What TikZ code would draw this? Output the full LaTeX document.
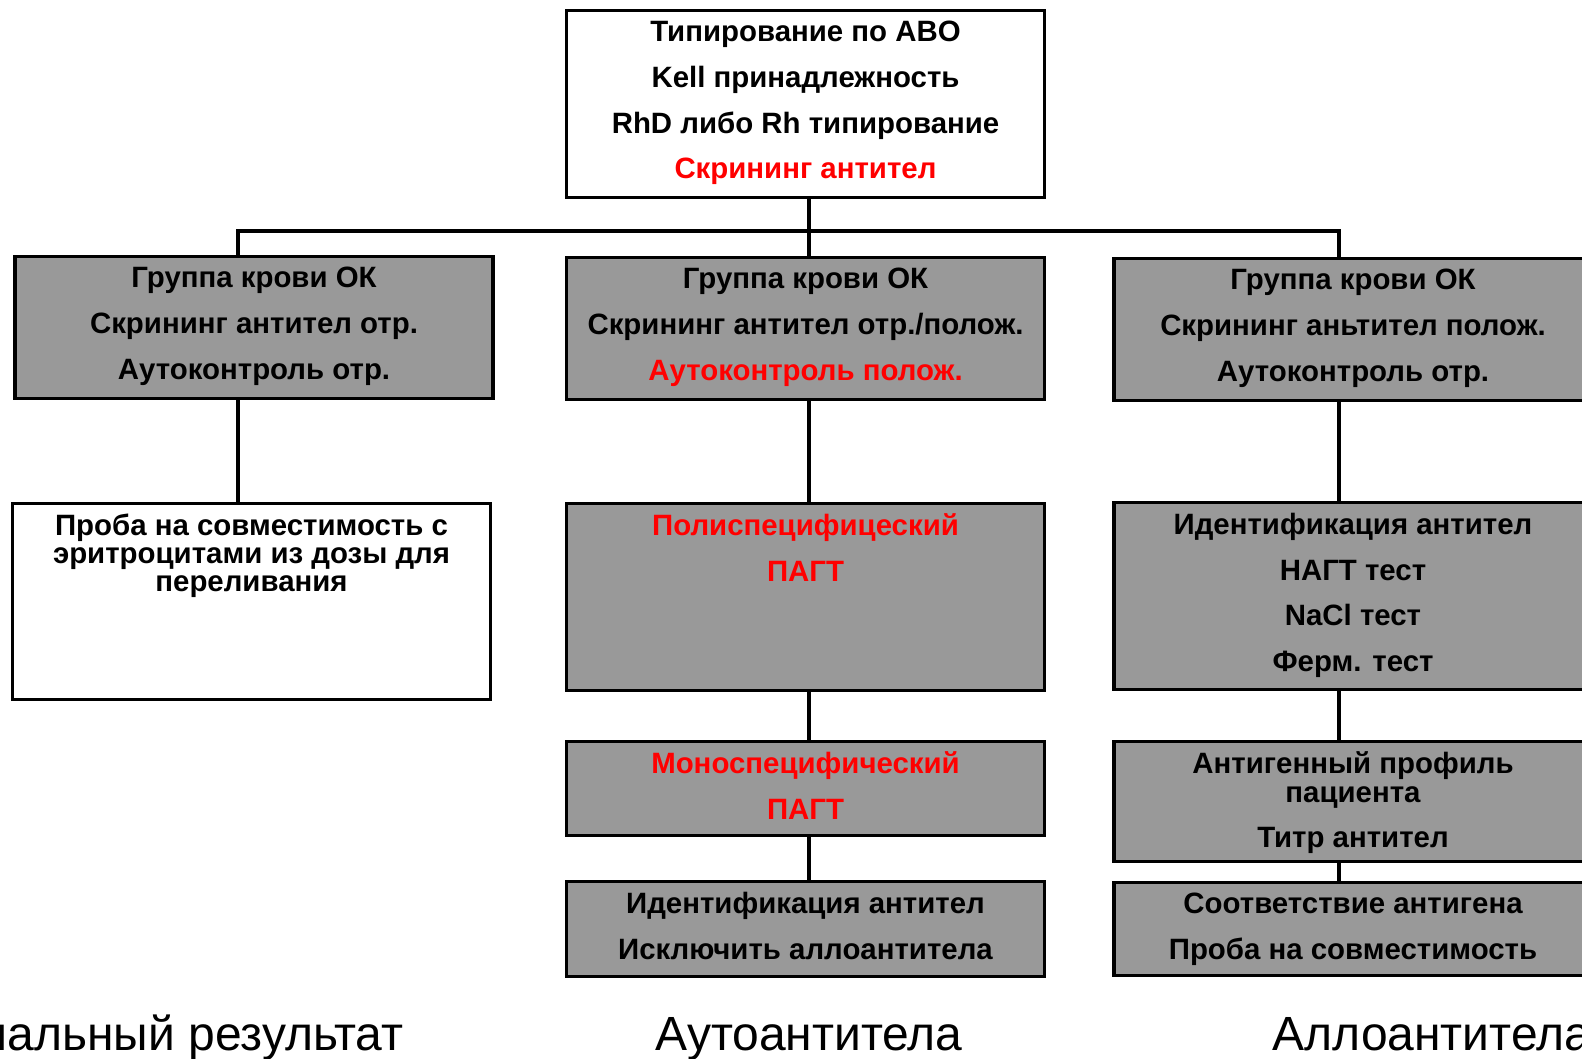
\documentclass[tikz,border=0pt]{standalone}
\usepackage{fontspec}
\setmainfont{Liberation Sans}
\usetikzlibrary{positioning}

\tikzstyle{box} = [draw, line width=3.5pt, minimum width=478pt, inner sep=0pt]
\tikzstyle{box text} = [align=center, inner sep=0pt, font={\bfseries\fontsize{29.4}{28.2}\selectfont\lineskiplimit=-30pt\lineskip=0pt}]
\tikzstyle{edge} = [draw, line width=3.5pt, -]
\tikzstyle{caption} = [font=\fontsize{48}{52}\selectfont]

\begin{document}
\begin{tikzpicture}[x=1pt, y=-1pt]
       \useasboundingbox (0,0) rectangle (1582,1058);
       \clip (0,0) rectangle (1582,1058);
       % boxes
       \foreach \pos/\name/\h/\col in {{(805.5,104)/abo/187/white}, {(254,327.5)/neg/142/black!40}, {(805.5,328.5)/autopos/142/black!40}, {(1353,329.5)/allo/142/black!40}, {(251.5,601.5)/cross/196/white}, {(805.5,597)/poly/187/black!40}, {(1353,596)/ident/187/black!40}, {(805.5,788.5)/mono/94/black!40}, {(1353,801.5)/profile/120/black!40}, {(805.5,929)/excl/95/black!40}, {(1353,929)/match/93/black!40}} {
           \node[box, fill=\col, minimum height=\h] (\name) at \pos {};
       }
       % texts
       \node[box text, below=12pt of abo.north] (abotext) {Типирование по ABO\\[17.6pt] Kell принадлежность\\[17.6pt] RhD либо Rh типирование\\[17.6pt] \textcolor{red}{Скрининг антител}};
       \node[box text, below=12pt of neg.north] (negtext) {Группа крови ОК\\[17.6pt] Скрининг антител отр.\\[17.6pt] Аутоконтроль отр.};
       \node[box text, below=12pt of autopos.north] (autopostext) {Группа крови ОК\\[17.6pt] Скрининг антител отр./полож.\\[17.6pt] \textcolor{red}{Аутоконтроль полож.}};
       \node[box text, below=12pt of allo.north] (allotext) {Группа крови ОК\\[17.6pt] Скрининг аньтител полож.\\[17.6pt] Аутоконтроль отр.};
       \node[box text, below=12pt of cross.north] (crosstext) {Проба на совместимость с\\ эритроцитами из дозы для\\ переливания};
       \node[box text, text=red, below=12pt of poly.north] (polytext) {Полиспецифицеский\\[17.6pt] ПАГТ};
       \node[box text, below=12pt of ident.north] (identtext) {Идентификация антител\\[17.6pt] НАГТ тест\\[17.6pt] NaCl тест\\[17.6pt] Ферм. тест};
       \node[box text, text=red, below=12pt of mono.north] (monotext) {Моноспецифический\\[17.6pt] ПАГТ};
       \node[box text, below=12pt of profile.north] (profiletext) {Антигенный профиль\\ пациента\\[17.6pt] Титр антител};
       \node[box text, below=12pt of excl.north] (excltext) {Идентификация антител\\[17.6pt] Исключить аллоантитела};
       \node[box text, below=12pt of match.north] (matchtext) {Соответствие антигена\\[17.6pt] Проба на совместимость};
       % captions
       \node[caption, anchor=base east] (normcap) at (407,1050) {Нормальный результат};
       \node[caption, anchor=base] (autocap) at (809,1050) {Аутоантитела};
       \node[caption, anchor=base west] (allocap) at (1269,1050) {Аллоантитела};
       % connectors
       \coordinate (lx) at (238,231);
       \coordinate (cx) at (809,231);
       \coordinate (rx) at (1339,231);
       \path[edge] (cx |- abo.south) -- (cx) -- (cx |- autopos.north);
       \path[edge] (lx |- neg.north) -- (lx) -- (rx) -- (rx |- allo.north);
       \path[edge] (lx |- neg.south) -- (lx |- cross.north);
       \foreach \source/\sink in {autopos/poly, poly/mono, mono/excl} {
           \path[edge] (cx |- \source.south) -- (cx |- \sink.north);
       }
       \foreach \source/\sink in {allo/ident, ident/profile, profile/match} {
           \path[edge] (rx |- \source.south) -- (rx |- \sink.north);
       }
\end{tikzpicture}
\end{document}
